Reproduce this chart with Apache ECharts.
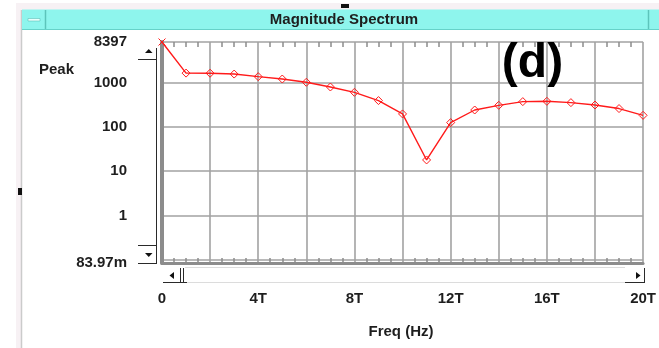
<!DOCTYPE html>
<html>
<head>
<meta charset="utf-8">
<title>Magnitude Spectrum</title>
<script src="https://cdn.jsdelivr.net/npm/echarts@6/dist/echarts.min.js"></script>
<style>
  html, body { margin: 0; padding: 0; background: #ffffff; }
  #chart { width: 659px; height: 348px; }
</style>
</head>
<body>
<div id="chart"></div>
<script>
// Frequency bins (in units of T = 1e12 Hz) and peak magnitudes
const freqT = [0, 1, 2, 3, 4, 5, 6, 7, 8, 9, 10, 11, 12, 13, 14, 15, 16, 17, 18, 19, 20];
const peak = [8397, 1660, 1650, 1580, 1380, 1220, 1030, 805, 610, 397, 198, 18, 126, 243, 310, 376, 382, 357, 315, 262, 184];

// Axis ranges and tick labels
const yMin = 0.08397;
const yMax = 8397;
const yTickValues = [0.08397, 1, 10, 100, 1000, 8397];
const yTickLabels = ['83.97m', '1', '10', '100', '1000', '8397'];
const xMin = 0;
const xMax = 20;
const xTickValues = [0, 4, 8, 12, 16, 20];
const xTickLabels = ['0', '4T', '8T', '12T', '16T', '20T'];

const FONT = "'Liberation Sans', Arial, sans-serif";
const TEXT_COLOR = '#1e1e1e';
const GRID_COLOR = '#a2a2a2';
const FRAME_COLOR = '#8c8c8c';
const TRACE_COLOR = '#ff1a1a';

function labelFor(values, labels, v) {
  for (let i = 0; i < values.length; i++) {
    const ref = values[i];
    if (Math.abs(v - ref) <= Math.max(1e-9, Math.abs(ref) * 1e-6)) return labels[i];
  }
  return '';
}

const seriesData = freqT.map((f, i) => {
  const item = { value: [f, peak[i]] };
  if (i === 0) {
    // first bin drawn with a cross marker
    item.symbol = 'path://M0,0L10,10M10,0L0,10';
    item.symbolSize = 7;
  }
  return item;
});

const chart = echarts.init(document.getElementById('chart'), null, { renderer: 'canvas' });

const labelStyle = { color: TEXT_COLOR, fontFamily: FONT, fontWeight: 'bold', fontSize: 15 };

chart.setOption({
  animation: false,
  backgroundColor: '#ffffff',
  grid: { left: 162, right: 14, top: 42, bottom: 85, containLabel: false },
  xAxis: [
    {
      type: 'value',
      position: 'bottom',
      min: xMin,
      max: xMax,
      interval: 2,
      axisLine: { show: true, onZero: false, lineStyle: { color: FRAME_COLOR, width: 3 } },
      axisTick: { show: false, inside: true },
      minorTick: { show: true, splitNumber: 4, length: 5, lineStyle: { color: FRAME_COLOR, width: 1.5 } },
      minorSplitLine: { show: false },
      splitLine: { show: true, lineStyle: { color: GRID_COLOR, width: 1.6 } },
      axisLabel: Object.assign({
        margin: 28,
        formatter: v => labelFor(xTickValues, xTickLabels, v)
      }, labelStyle)
    },
    {
      type: 'value',
      position: 'top',
      min: xMin,
      max: xMax,
      interval: 2,
      axisLine: { show: false },
      axisTick: { show: false, inside: true },
      minorTick: { show: true, splitNumber: 4, length: 5, lineStyle: { color: FRAME_COLOR, width: 1.5 } },
      splitLine: { show: false },
      axisLabel: { show: false }
    }
  ],
  yAxis: {
    type: 'log',
    logBase: 10,
    min: yMin,
    max: yMax,
    splitNumber: 5,
    axisLine: { show: true, lineStyle: { color: FRAME_COLOR, width: 4 } },
    axisTick: { show: false },
    splitLine: { show: true, lineStyle: { color: GRID_COLOR, width: 1.6 } },
    axisLabel: Object.assign({
      margin: 35,
      showMinLabel: true,
      showMaxLabel: true,
      formatter: v => labelFor(yTickValues, yTickLabels, v)
    }, labelStyle)
  },
  series: [{
    type: 'line',
    xAxisIndex: 0,
    data: seriesData,
    clip: false,
    symbol: 'diamond',
    symbolSize: 8,
    showAllSymbol: true,
    lineStyle: { color: TRACE_COLOR, width: 1.4 },
    itemStyle: { color: 'rgba(255,255,255,0)', borderColor: TRACE_COLOR, borderWidth: 1 }
  }],
  graphic: [
    // window frame
    { type: 'rect', shape: { x: 16, y: 3, width: 643, height: 7 }, style: { fill: '#f7f1f4' }, silent: true },
    { type: 'rect', shape: { x: 16, y: 3, width: 5, height: 345 }, style: { fill: '#f7f1f4' }, silent: true },
    { type: 'line', shape: { x1: 21.5, y1: 10, x2: 21.5, y2: 348 }, style: { stroke: '#cbcbcb', lineWidth: 1.5 }, silent: true },
    // title bar
    { type: 'rect', shape: { x: 22, y: 9.5, width: 637, height: 20 }, style: { fill: '#8ef5ed' }, silent: true },
    { type: 'line', shape: { x1: 22, y1: 29.5, x2: 659, y2: 29.5 }, style: { stroke: '#66d2c9', lineWidth: 1 }, silent: true },
    { type: 'line', shape: { x1: 45.5, y1: 10, x2: 45.5, y2: 29 }, style: { stroke: '#5cc4bb', lineWidth: 1.5 }, silent: true },
    { type: 'line', shape: { x1: 648.5, y1: 10, x2: 648.5, y2: 29 }, style: { stroke: '#5cc4bb', lineWidth: 1.5 }, silent: true },
    { type: 'rect', shape: { x: 28, y: 18.5, width: 12, height: 2.5 }, style: { fill: '#e8fffc', stroke: '#4fb5ad', lineWidth: 0.5 }, silent: true },
    { type: 'text', style: { x: 344, y: 19.5, text: 'Magnitude Spectrum', fill: TEXT_COLOR, font: 'bold 15px ' + FONT, textAlign: 'center', textVerticalAlign: 'middle' }, silent: true },
    { type: 'rect', shape: { x: 341, y: 4, width: 8, height: 4 }, style: { fill: '#111111' }, silent: true },
    { type: 'rect', shape: { x: 18, y: 188, width: 4, height: 7 }, style: { fill: '#111111' }, silent: true },
    // y axis caption
    { type: 'text', style: { x: 39, y: 70, text: 'Peak', fill: TEXT_COLOR, font: 'bold 15px ' + FONT, textAlign: 'left', textVerticalAlign: 'middle' }, silent: true },
    // y scroll buttons
    { type: 'line', shape: { x1: 156.5, y1: 48, x2: 156.5, y2: 264 }, style: { stroke: '#2a2a2a', lineWidth: 1 }, silent: true },
    { type: 'line', shape: { x1: 138, y1: 59.5, x2: 157, y2: 59.5 }, style: { stroke: '#2a2a2a', lineWidth: 1 }, silent: true },
    { type: 'polygon', shape: { points: [[145, 53], [152.5, 53], [148.75, 49]] }, style: { fill: '#111111' }, silent: true },
    { type: 'line', shape: { x1: 138, y1: 245.5, x2: 157, y2: 245.5 }, style: { stroke: '#2a2a2a', lineWidth: 1 }, silent: true },
    { type: 'line', shape: { x1: 138, y1: 263.5, x2: 157, y2: 263.5 }, style: { stroke: '#2a2a2a', lineWidth: 1 }, silent: true },
    { type: 'polygon', shape: { points: [[145, 253], [152.5, 253], [148.75, 257]] }, style: { fill: '#111111' }, silent: true },
    // x scrollbar
    { type: 'line', shape: { x1: 185, y1: 267.5, x2: 625, y2: 267.5 }, style: { stroke: '#dcdcdc', lineWidth: 1 }, silent: true },
    { type: 'line', shape: { x1: 185, y1: 282.5, x2: 625, y2: 282.5 }, style: { stroke: '#dcdcdc', lineWidth: 1 }, silent: true },
    { type: 'line', shape: { x1: 163, y1: 282.5, x2: 187, y2: 282.5 }, style: { stroke: '#2a2a2a', lineWidth: 1 }, silent: true },
    { type: 'line', shape: { x1: 180.5, y1: 268, x2: 180.5, y2: 283 }, style: { stroke: '#2a2a2a', lineWidth: 1 }, silent: true },
    { type: 'line', shape: { x1: 183.5, y1: 268, x2: 183.5, y2: 283 }, style: { stroke: '#2a2a2a', lineWidth: 1 }, silent: true },
    { type: 'polygon', shape: { points: [[174, 272], [174, 279], [169.5, 275.5]] }, style: { fill: '#111111' }, silent: true },
    { type: 'line', shape: { x1: 625, y1: 282.5, x2: 645, y2: 282.5 }, style: { stroke: '#2a2a2a', lineWidth: 1 }, silent: true },
    { type: 'line', shape: { x1: 644.5, y1: 268, x2: 644.5, y2: 283 }, style: { stroke: '#2a2a2a', lineWidth: 1 }, silent: true },
    { type: 'polygon', shape: { points: [[636, 272], [636, 279], [640.5, 275.5]] }, style: { fill: '#111111' }, silent: true },
    // x axis caption
    { type: 'text', style: { x: 401, y: 332, text: 'Freq (Hz)', fill: TEXT_COLOR, font: 'bold 15px ' + FONT, textAlign: 'center', textVerticalAlign: 'middle' }, silent: true },
    // panel tag
    { type: 'text', z: 10, style: { x: 532.5, y: 64, text: '(d)', fill: '#000000', font: 'bold 48px ' + FONT, textAlign: 'center', textVerticalAlign: 'middle' }, silent: true }
  ]
});
</script>
</body>
</html>
